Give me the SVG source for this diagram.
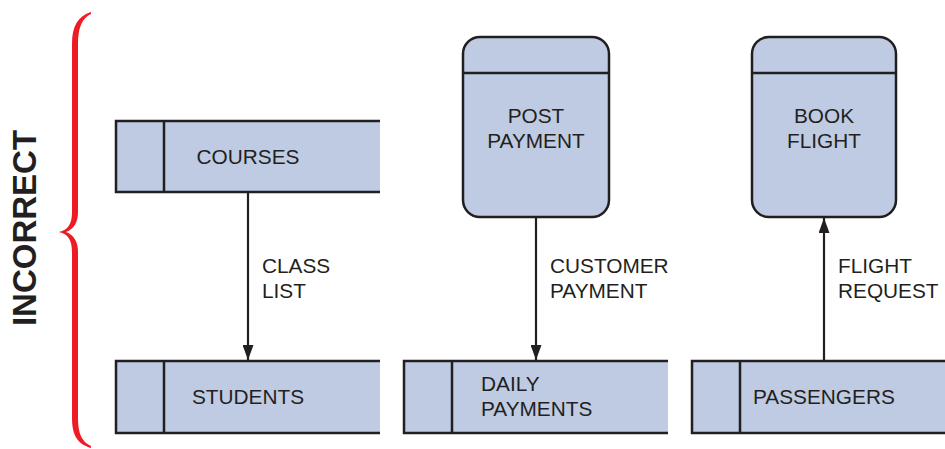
<svg xmlns="http://www.w3.org/2000/svg" width="945" height="449" viewBox="0 0 945 449">
<defs>
<style>
.fill{fill:#bfcbe3;stroke:none}
.ln{fill:none;stroke:#231f20;stroke-width:2.5}
.proc{fill:#bfcbe3;stroke:#231f20;stroke-width:2.5}
.t{font-family:"Liberation Sans",Arial,sans-serif;font-size:20.8px;fill:#231f20}
.tm{text-anchor:middle}
.conn{stroke:#231f20;stroke-width:2.2;fill:none}
</style>
<marker id="ah" viewBox="0 0 10 10" refX="10" refY="5" markerWidth="15" markerHeight="11" markerUnits="userSpaceOnUse" orient="auto" preserveAspectRatio="none">
<path d="M0,0 L10,5 L0,10 z" fill="#231f20"/>
</marker>
</defs>
<rect width="945" height="449" fill="#fff"/>
<g id="brace">
<path d="M91,12 C78,16 72,26 72,44 L72,212 C72,224 68,230 59,232 C68,234 72,240 72,252 L72,418 C72,436 78,444 91,448 L91,446 C82,442 78,434 78,418 L78,252 C78,242 74,235 66,232 C74,229 78,222 78,212 L78,44 C78,28 82,18 91,14 Z" fill="#ed1c24"/>
</g>
<text id="incorrect" transform="translate(36,228) rotate(-90)" text-anchor="middle" style="font-family:'Liberation Sans',Arial,sans-serif;font-weight:bold;font-size:33px;fill:#231f20">INCORRECT</text>
<g id="courses">
<rect class="fill" x="116" y="121" width="264" height="71"/>
<path class="ln" d="M380,121 H116 V192 H380 M164,121 V192"/>
<text class="t tm" x="248" y="164">COURSES</text>
</g>
<g id="students">
<rect class="fill" x="116" y="361" width="264" height="72"/>
<path class="ln" d="M380,361 H116 V433 H380 M164,361 V433"/>
<text class="t tm" x="248" y="404">STUDENTS</text>
</g>
<g id="daily-payments">
<rect class="fill" x="404" y="361" width="264" height="72"/>
<path class="ln" d="M668,361 H404 V433 H668 M452,361 V433"/>
<text class="t" x="481" y="391">DAILY</text>
<text class="t" x="481" y="416">PAYMENTS</text>
</g>
<g id="passengers">
<rect class="fill" x="692" y="361" width="253" height="72"/>
<path class="ln" d="M945,361 H692 V433 H945 M740,361 V433"/>
<text class="t" x="753" y="404">PASSENGERS</text>
</g>
<g id="post-payment">
<rect class="proc" x="463" y="37" width="146" height="180" rx="17"/>
<line class="ln" x1="463" y1="73" x2="609" y2="73"/>
<text class="t tm" x="536" y="123">POST</text>
<text class="t tm" x="536" y="148">PAYMENT</text>
</g>
<g id="book-flight">
<rect class="proc" x="752" y="37" width="144" height="180" rx="17"/>
<line class="ln" x1="752" y1="73" x2="896" y2="73"/>
<text class="t tm" x="824" y="123">BOOK</text>
<text class="t tm" x="824" y="148">FLIGHT</text>
</g>
<g id="connectors">
<line class="conn" x1="248" y1="193" x2="248" y2="360" marker-end="url(#ah)"/>
<line class="conn" x1="536" y1="218" x2="536" y2="360" marker-end="url(#ah)"/>
<line class="conn" x1="824" y1="360" x2="824" y2="218" marker-end="url(#ah)"/>
<text class="t" x="262" y="273">CLASS</text>
<text class="t" x="262" y="298">LIST</text>
<text class="t" x="550" y="273">CUSTOMER</text>
<text class="t" x="550" y="298">PAYMENT</text>
<text class="t" x="838" y="273">FLIGHT</text>
<text class="t" x="838" y="298">REQUEST</text>
</g>
</svg>
